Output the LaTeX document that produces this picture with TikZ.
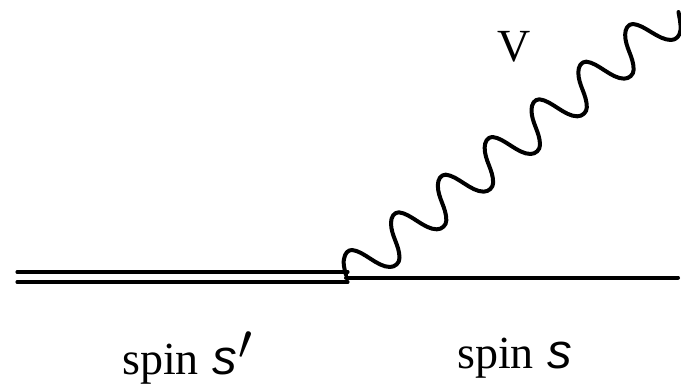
\documentclass[tikz,border=0pt]{standalone}
\usepackage{fontspec}
\setmainfont{Liberation Serif}
\newfontfamily\spinsans{Liberation Sans}
\newcommand{\spinletter}{\hspace{10pt}{\fontsize{37pt}{40pt}\selectfont\spinsans\itshape s}}
\newcommand{\spinprime}{\hspace{1.5pt}\raisebox{-3pt}{\scalebox{1.5}{$'$}}}
\tikzset{
  px/.style={x=0.75pt,y=-0.75pt},
  lbl/.style={inner sep=0pt,anchor=base west,font=\fontsize{34.5pt}{40pt}\selectfont},
  fermion/.style={line width=3pt,line cap=round,black},
  heavy/.style={line width=2.3pt,line cap=round,black},
  wave/.style={line width=3pt,line cap=round,line join=round,black}
}
\begin{document}
\begin{tikzpicture}[px]
\useasboundingbox (0,0) rectangle (681,385);
\coordinate (leftU) at (17,272);
\coordinate (vertU) at (348,272);
\coordinate (leftL) at (17,282);
\coordinate (vertL) at (348,282);
\coordinate (vert) at (346,277.5);
\coordinate (right) at (678,277.5);
\coordinate (waveStart) at (346,275);
\coordinate (waveEnd) at (678.5,12);
\draw[heavy] (leftU) -- (vertU);
\draw[heavy] (leftL) -- (vertL);
\draw[fermion] (vert) -- (right);
\draw[wave] (waveStart) .. controls (344,268) and (343,262) .. (344,259)
  .. controls (345,253) and (348,250) .. (352,250)
  \foreach \i in {0,...,5} {
    .. controls ({352+46.83*\i+12},{250-37.67*\i+1}) and ({352+46.83*\i+25},{250-37.67*\i+17}) .. ({352+46.83*\i+38},{250-37.67*\i+17})
    .. controls ({352+46.83*\i+43},{250-37.67*\i+17}) and ({352+46.83*\i+47.5},{250-37.67*\i+13}) .. ({352+46.83*\i+47.5},{250-37.67*\i+8})
    .. controls ({352+46.83*\i+47.5},{250-37.67*\i-5}) and ({352+46.83*\i+39},{250-37.67*\i-14}) .. ({352+46.83*\i+39},{250-37.67*\i-27})
    .. controls ({352+46.83*\i+39},{250-37.67*\i-33}) and ({352+46.83*\i+42},{250-37.67*\i-37.67}) .. ({352+46.83*\i+46.83},{250-37.67*\i-37.67})
  }
  .. controls (645,25) and (658,40) .. (671,40)
  .. controls (676,40) and (680,36) .. (680.5,30)
  .. controls (681,24) and (679.5,18) .. (waveEnd);
\node[lbl] (v) at (497,62) {V};
\node[lbl] (spinL) at (122,374) {spin\spinletter\spinprime};
\node[lbl] (spinR) at (457,368) {spin\spinletter};
\end{tikzpicture}
\end{document}
